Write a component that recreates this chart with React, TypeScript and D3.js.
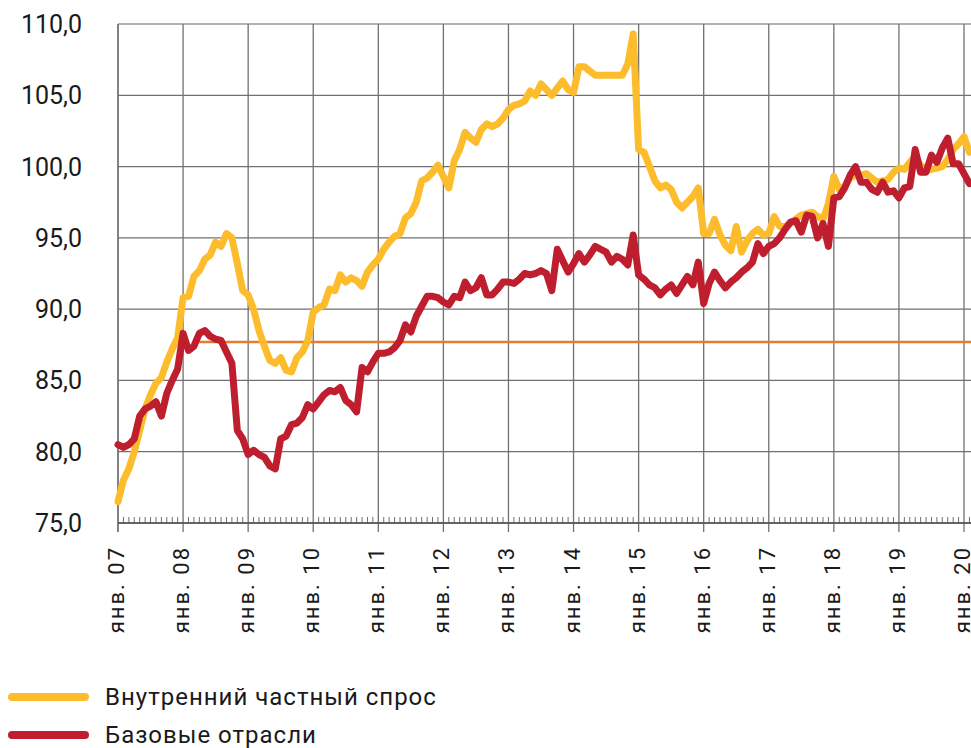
import React from 'react';
import * as d3 from 'd3';

// monthly values, Jan 2007 .. Feb 2020
const domesticDemand = [
  76.5, 78.0, 78.8, 80.0, 81.5, 83.0, 84.0, 84.8, 85.2, 86.3, 87.2, 88.0,
  90.8, 90.9, 92.3, 92.7, 93.5, 93.8, 94.7, 94.4, 95.3, 95.0, 93.2, 91.3,
  91.0, 90.0, 88.5, 87.4, 86.4, 86.2, 86.6, 85.7, 85.6, 86.6, 87.0, 87.8,
  89.8, 90.1, 90.3, 91.4, 91.3, 92.4, 91.9, 92.2, 92.0, 91.6, 92.6, 93.1,
  93.5, 94.2, 94.7, 95.1, 95.3, 96.4, 96.7, 97.5, 99.0, 99.2, 99.6, 100.1,
  99.3, 98.5, 100.4, 101.2, 102.4, 102.0, 101.7, 102.6, 103.0, 102.8, 103.0, 103.4,
  104.0, 104.3, 104.4, 104.6, 105.3, 105.0, 105.8, 105.4, 105.0, 105.5, 106.0, 105.4,
  105.2, 107.0, 107.0, 106.7, 106.4, 106.4, 106.4, 106.4, 106.4, 106.4, 107.2, 109.3,
  101.2, 101.0, 100.0, 99.0, 98.5, 98.7, 98.4, 97.5, 97.1, 97.5, 97.9, 98.5,
  95.3, 95.3, 96.3, 95.2, 94.5, 94.1, 95.8, 94.0, 94.8, 95.3, 95.6, 95.2,
  95.3, 96.5, 95.8, 95.8, 96.0, 96.3, 96.6, 96.7, 96.8, 96.5, 96.3, 97.4,
  99.3, 98.4, 98.6, 99.2, 99.4, 99.4, 99.5, 99.2, 98.9, 99.0, 99.1, 99.6,
  99.9, 99.8, 100.3, 100.7, 100.1, 99.8, 99.8, 99.9, 100.0, 100.5, 101.2, 101.6,
  102.1, 101.0,
];

const baseIndustries = [
  80.5, 80.3, 80.5, 80.9, 82.5, 83.0, 83.2, 83.5, 82.5, 84.1, 85.0, 85.8,
  88.3, 87.1, 87.4, 88.3, 88.5, 88.1, 87.9, 87.8, 87.0, 86.2, 81.5, 80.9,
  79.8, 80.1, 79.8, 79.6, 79.0, 78.8, 80.9, 81.1, 81.9, 82.0, 82.4, 83.3,
  83.0, 83.5, 84.0, 84.3, 84.2, 84.5, 83.6, 83.3, 82.8, 85.9, 85.6, 86.3,
  86.9, 86.9, 87.0, 87.3, 87.8, 88.9, 88.4, 89.5, 90.2, 90.9, 90.9, 90.8,
  90.5, 90.3, 90.9, 90.8, 91.9, 91.3, 91.5, 92.2, 91.0, 91.0, 91.4, 91.9,
  91.9, 91.8, 92.1, 92.5, 92.4, 92.5, 92.7, 92.5, 91.3, 94.2, 93.4, 92.6,
  93.2, 93.9, 93.3, 93.8, 94.4, 94.2, 94.0, 93.3, 93.7, 93.5, 93.1, 95.2,
  92.4, 92.1, 91.7, 91.5, 91.0, 91.4, 91.7, 91.1, 91.7, 92.3, 91.7, 93.3,
  90.4, 91.8, 92.6, 92.0, 91.5, 91.9, 92.2, 92.6, 92.9, 93.3, 94.6, 93.9,
  94.4, 94.6, 95.0, 95.6, 96.1, 96.2, 95.4, 96.6, 96.5, 95.0, 96.0, 94.4,
  97.8, 97.9, 98.5, 99.4, 100.0, 98.9, 98.9, 98.4, 98.2, 98.9, 98.2, 98.3,
  97.8, 98.5, 98.6, 101.2, 99.6, 99.6, 100.8, 100.3, 101.3, 102.0, 100.2, 100.2,
  99.5, 98.8,
];

const referenceLevel = 87.7;
const referenceStart = 15; // month index where the level line begins

const yTicks = [75, 80, 85, 90, 95, 100, 105, 110];
const yearLabels = ['07', '08', '09', '10', '11', '12', '13', '14', '15', '16', '17', '18', '19', '20'];

const seriesNames = ['Внутренний частный спрос', 'Базовые отрасли'];

const W = 971, H = 748;
const left = 118, right = 971, top = 24, bottom = 523;
const yellow = '#FDBC2C', red = '#BE1E2D', orange = '#E87B2C', grid = '#707070';

export default function App() {
  const x = d3.scaleLinear().domain([0, 156]).range([left, 964]);
  const y = d3.scaleLinear().domain([75, 110]).range([bottom, top]);
  const line = d3.line<number>().x((d, i) => x(i)).y(d => y(d));

  const months = d3.range(0, 158);
  const years = yearLabels.map((_, i) => i * 12);

  return (
    <div style={{ position: 'absolute', left: 0, top: 0 }}>
      <svg width={W} height={H} style={{ display: 'block' }}>
        <defs>
          <clipPath id="plot">
            <rect x={left - 10} y={0} width={right - left + 10} height={bottom + 10} />
          </clipPath>
        </defs>
        <rect width={W} height={H} fill="#fff" />
        {/* horizontal grid */}
        {yTicks.map(t => (
          <line key={'h' + t} x1={left} x2={right} y1={y(t)} y2={y(t)}
            stroke={t === 110 ? '#999' : grid} strokeWidth={1.3} />
        ))}
        {/* vertical grid */}
        {years.map(m => (
          <line key={'v' + m} x1={x(m)} x2={x(m)} y1={top} y2={bottom + 9}
            stroke={grid} strokeWidth={1.3} />
        ))}
        {/* minor month ticks */}
        {months.filter(m => m % 12 !== 0 && x(m) < right).map(m => (
          <line key={'t' + m} x1={x(m)} x2={x(m)} y1={bottom - 6} y2={bottom}
            stroke={grid} strokeWidth={1} />
        ))}
        <line x1={left} x2={left} y1={top} y2={bottom + 9} stroke={grid} strokeWidth={1.3} />
        <line x1={left} x2={right} y1={bottom} y2={bottom} stroke="#555" strokeWidth={1.3} />

        {/* y labels */}
        {yTicks.map(t => (
          <text key={'yl' + t} x={82} y={y(t) + 9} textAnchor="end"
            style={{ fontFamily: 'Roboto', fontSize: 25, fill: '#1a1a1a' }}>
            {t.toFixed(1).replace('.', ',')}
          </text>
        ))}
        {/* x labels */}
        {years.map((m, i) => (
          <text key={'xl' + m} transform={`translate(${x(m) + 6},546) rotate(-90)`} textAnchor="end"
            style={{ fontFamily: 'Roboto', fontSize: 22, letterSpacing: 2, fill: '#1a1a1a' }}>
            {'янв. ' + yearLabels[i]}
          </text>
        ))}

        <g clipPath="url(#plot)">
          <line x1={x(referenceStart)} x2={right} y1={y(referenceLevel)} y2={y(referenceLevel)}
            stroke={orange} strokeWidth={2.5} />
          <path d={line(domesticDemand) || ''} fill="none" stroke={yellow} strokeWidth={7}
            strokeLinejoin="round" strokeLinecap="round" />
          <path d={line(baseIndustries) || ''} fill="none" stroke={red} strokeWidth={7}
            strokeLinejoin="round" strokeLinecap="round" />
        </g>

        {/* legend */}
        {[yellow, red].map((c, i) => (
          <g key={'lg' + i}>
            <line x1={12} x2={85} y1={697 + i * 38} y2={697 + i * 38} stroke={c} strokeWidth={8}
              strokeLinecap="round" />
            <text x={105} y={705 + i * 38}
              style={{ fontFamily: 'Roboto', fontSize: 24, letterSpacing: 1, fill: '#1a1a1a' }}>
              {seriesNames[i]}
            </text>
          </g>
        ))}
      </svg>
    </div>
  );
}
